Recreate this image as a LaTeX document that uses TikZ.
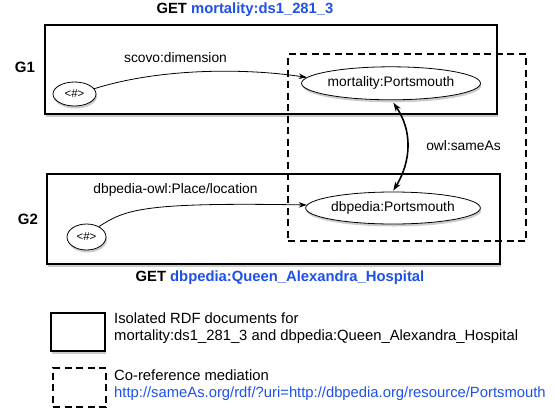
\documentclass[tikz,border=0pt]{standalone}
\usepackage{fontspec}
\setmainfont{Liberation Sans}
\usetikzlibrary{arrows.meta,shapes.geometric,shadows}
\definecolor{linkblue}{RGB}{30,80,235}
\begin{document}
\begin{tikzpicture}[x=1pt,y=-1pt,
  shade/.style={drop shadow={shadow xshift=1pt, shadow yshift=-2.5pt, fill=black, opacity=0.2}},
  doc/.style={draw, rectangle, line width=1.8pt, fill=white, inner sep=0pt, shade},
  coref/.style={draw, rectangle, dash pattern=on 7pt off 4.5pt, line width=1.5pt, inner sep=0pt},
  res/.style={draw, ellipse, fill=white, line width=0.8pt, inner sep=0pt, shade, font=\fontsize{13.8}{16}\selectfont},
  anon/.style={draw, ellipse, fill=white, line width=0.8pt, inner sep=0pt, shade, font=\fontsize{11.5}{13}\selectfont},
  lbl/.style={inner sep=0pt, font=\fontsize{13.8}{16}\selectfont},
  title/.style={inner sep=0pt, font=\bfseries\fontsize{14.8}{17}\selectfont},
  gname/.style={inner sep=0pt, font=\bfseries\fontsize{15}{17}\selectfont},
  legtext/.style={inner sep=0pt, anchor=west, align=left, font=\fontsize{14.8}{17}\selectfont},
  link/.style={-{Stealth[length=8pt,width=5.5pt]}, line width=0.8pt},
  same/.style={{Stealth[length=9pt,width=6pt]}-{Stealth[length=9pt,width=6pt]}, line width=1.6pt}
]
\useasboundingbox (0,0) rectangle (556,413);

% documents
\node[doc, minimum width=452pt, minimum height=89pt] (g1box) at (271,69.5) {};
\node[doc, minimum width=453pt, minimum height=90pt] (g2box) at (273.5,219) {};
% co-reference mediation
\node[coref, minimum width=238pt, minimum height=187pt] (cobox) at (407,147.5) {};

% titles
\node[title] (t1) at (245,10) {GET \textcolor{linkblue}{mortality:ds1\_281\_3}};
\node[title] (t2) at (280,278) {GET \textcolor{linkblue}{dbpedia:Queen\_Alexandra\_Hospital}};
\node[gname] (g1) at (25,67) {G1};
\node[gname] (g2) at (28,219) {G2};

% resources
\node[res, minimum width=178pt, minimum height=33pt] (mort) at (391,83.3) {mortality:Portsmouth};
\node[res, minimum width=174pt, minimum height=32pt] (dbp) at (393,208) {dbpedia:Portsmouth};
\node[anon, minimum width=43pt, minimum height=24pt] (a1) at (74.5,94) {<\#>};
\node[anon, minimum width=39pt, minimum height=26pt] (a2) at (86.5,237) {<\#>};

% links
\draw[link] (a1.15) .. controls (160,68) and (245,68) .. (mort.176);
\node[lbl] (l1) at (175.5,58) {scovo:dimension};
\draw[link] (a2.40) .. controls (125,210) and (140,202) .. (dbp.178);
\node[lbl] (l2) at (175.5,190) {dbpedia-owl:Place/location};
\draw[same, shorten <=3pt, shorten >=1pt] (mort.-88) .. controls (412,130) and (412,160) .. (dbp.91);
\node[lbl] (l3) at (463.5,146) {owl:sameAs};

% legend
\node[doc, minimum width=54pt, minimum height=38pt] (leg1) at (78,332) {};
\node[coref, minimum width=53pt, minimum height=39pt] (leg2) at (79.5,387.5) {};
\node[legtext] (lt1) at (114,328.5) {Isolated RDF documents for\\mortality:ds1\_281\_3 and dbpedia:Queen\_Alexandra\_Hospital};
\node[legtext] (lt2) at (114,385.5) {Co-reference mediation\\\textcolor{linkblue}{http://sameAs.org/rdf/?uri=http://dbpedia.org/resource/Portsmouth}};
\end{tikzpicture}
\end{document}
